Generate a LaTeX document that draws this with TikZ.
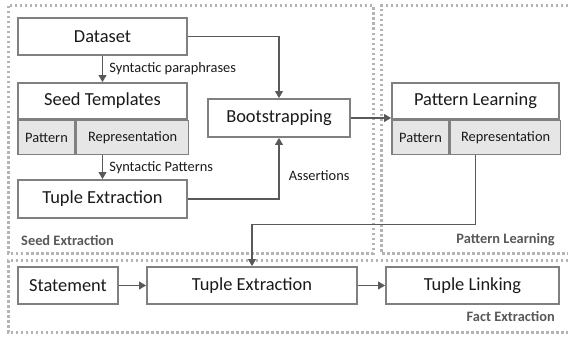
\documentclass[tikz,border=0pt]{standalone}
\usepackage{fontspec}
\setmainfont{Carlito}
\usepackage{xcolor}
\usetikzlibrary{positioning,arrows.meta}

\definecolor{boxgray}{HTML}{808080}
\definecolor{arrowgray}{HTML}{595959}
\definecolor{framegray}{HTML}{B4B4B4}
\definecolor{cellgray}{HTML}{E6E6E6}
\definecolor{textdark}{HTML}{1A1A1A}

\begin{document}
\begin{tikzpicture}[
    x=1pt, y=-1pt,
    box/.style={rectangle, draw=boxgray, line width=1.6pt, fill=white, minimum height=37pt, inner sep=0pt, text=textdark, font=\fontsize{18.4}{22}\selectfont},
    cell/.style={rectangle, draw=boxgray, line width=1.6pt, fill=cellgray, minimum height=34pt, inner sep=0pt, text=textdark, font=\fontsize{14.4}{17}\selectfont},
    arrow/.style={-{Triangle[length=7pt,width=7.5pt]}, draw=arrowgray, line width=1.7pt},
    frame/.style={draw=framegray, line width=3pt, dash pattern=on 2.5pt off 2.5pt},
    label/.style={inner sep=0pt, text=textdark, font=\fontsize{14.4}{17}\selectfont},
    phase/.style={inner sep=0pt, text=arrowgray, font=\fontsize{14.4}{17}\selectfont\bfseries}
]
    \useasboundingbox (0,0) rectangle (568,337);

    % Phase frames
    \draw[frame] (8,6) rectangle (373,253);
    \draw[frame] (568,6) -- (381,6) -- (381,253) -- (568,253);
    \draw[frame] (568,260) -- (8,260) -- (8,332) -- (568,332);

    % Seed extraction
    \node[box, minimum width=169pt] (dataset) at (102.5,36.5) {Dataset};
    \node[box, minimum width=169pt, minimum height=36pt] (seed) at (102.5,101) {Seed Templates};
    \node[cell, minimum width=57pt, anchor=north west] (seedpat) at (seed.south west) {Pattern};
    \node[cell, minimum width=112pt, anchor=north west] (seedrep) at (seedpat.north east) {Representation};
    \node[box, minimum width=169pt, minimum height=38pt] (seedtuple) at (102.5,199) {Tuple Extraction};
    \node[box, minimum width=142pt, minimum height=38pt] (boot) at (279,118) {Bootstrapping};

    % Pattern learning
    \node[box, minimum width=167pt, minimum height=36pt] (learn) at (475.5,101) {Pattern Learning};
    \node[cell, minimum width=57pt, anchor=north west] (learnpat) at (learn.south west) {Pattern};
    \node[cell, minimum width=110pt, anchor=north west] (learnrep) at (learnpat.north east) {Representation};

    % Fact extraction
    \node[box, minimum width=100pt] (stmt) at (68,285.5) {Statement};
    \node[box, minimum width=210pt] (facttuple) at (252,285.5) {Tuple Extraction};
    \node[box, minimum width=173pt] (linking) at (472.5,285.5) {Tuple Linking};

    % Arrows
    \draw[arrow] (dataset) -- node[right=6pt, label] {Syntactic paraphrases} (seed);
    \draw[arrow] (seedrep.south -| seed.south) -- node[right=6pt, label] {Syntactic Patterns} (seedtuple);
    \draw[arrow] (dataset.east) -| (boot.north);
    \draw[arrow] (seedtuple.east) -| node[pos=0.69, right=9pt, label] {Assertions} (boot.south);
    \draw[arrow] (boot.east) -- (boot.east -| learn.west);
    \coordinate (learnout) at (learn.center |- learnrep.south);
    \draw[arrow] (learnout) -- ++(0,69) -| (facttuple.north);
    \draw[arrow] (stmt) -- (facttuple);
    \draw[arrow] (facttuple) -- (linking);

    % Phase labels
    \node[phase, anchor=west] (seedlbl) at (21,240) {Seed Extraction};
    \node[phase, anchor=east] (learnlbl) at (555,240) {Pattern Learning};
    \node[phase, anchor=east] (factlbl) at (555,316) {Fact Extraction};
\end{tikzpicture}
\end{document}
